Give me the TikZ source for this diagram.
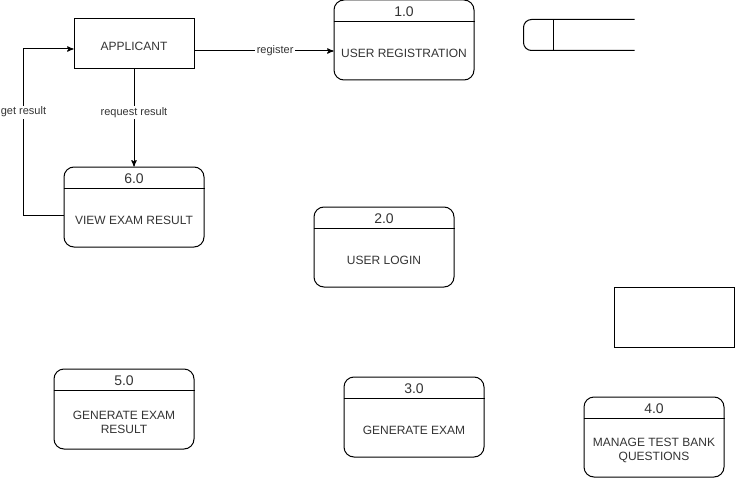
\documentclass[tikz,border=0pt]{standalone}
\usepackage{fontspec}
\setmainfont{Liberation Sans}
\usepackage{pgf,tikz}
\usetikzlibrary{arrows,shapes}
\tikzstyle{entity}=[rectangle,draw,minimum width=90pt,minimum height=37.5pt,inner sep=0pt]
\tikzstyle{process}=[rectangle,draw,rounded corners=7.5pt,minimum width=105pt,minimum height=60pt,inner sep=0pt]
\tikzstyle{caption}=[font=\fontsize{9}{11}\selectfont,text=black!80,align=center,inner sep=1pt]
\tikzstyle{number}=[caption,font=\fontsize{10.5}{12}\selectfont]
\tikzstyle{flow}=[draw,-stealth']
\tikzstyle{flowlabel}=[font=\fontsize{8.25}{10}\selectfont,text=black!80,fill=white,inner sep=1pt]

\begin{document}
\begin{tikzpicture}[x=0.75pt,y=-0.75pt,line width=0.75pt]
    \useasboundingbox (0,0) rectangle (735,478);
    % external entity and the empty boxes
    \node[entity] (applicant) at (134,44) {};
    \node[caption] (applicanttxt) at ([yshift=-1.5pt]applicant.center) {APPLICANT};
    \node[entity,minimum height=45pt] (blank) at (674,317) {};
    \node[inner sep=0pt,minimum width=82.5pt,minimum height=22.5pt] (store) at (579,35) {};
    \draw[rounded corners=6pt] (store.north east) -- (store.north west) -- (store.south west) -- (store.south east);
    \draw ([xshift=22.5pt]store.north west) -- ([xshift=22.5pt]store.south west);
    % processes
    \foreach \pos/\name/\num/\desc in {{(404,40)/p1/1.0/USER REGISTRATION}, {(384,247)/p2/2.0/USER LOGIN}, {(414,417)/p3/3.0/GENERATE EXAM}, {(654,437)/p4/4.0/{MANAGE TEST BANK\\QUESTIONS}}, {(124,409)/p5/5.0/{GENERATE EXAM\\RESULT}}, {(134,207)/p6/6.0/VIEW EXAM RESULT}}
    {
        \node[process] (\name) at \pos {};
        \draw ([yshift=-16.5pt]\name.north west) -- ([yshift=-16.5pt]\name.north east);
        \node[number] (\name num) at ([yshift=-9.5pt]\name.north) {\num};
        \node[caption] (\name txt) at ([yshift=-10pt]\name.center) {\desc};
    }
    % data flows
    \path[flow] ([yshift=-5.25pt]applicant.east) -- node[flowlabel,pos=0.58] (regtxt) {register} ([yshift=-8.25pt]p1.west);
    \path[flow] (applicant.south) -- node[flowlabel,pos=0.44] (reqtxt) {request result} (p6.north);
    \path[flow] ([yshift=-6pt]p6.west) -- ++(-40,0) |- node[flowlabel,pos=0.31] (gettxt) {get result} ([yshift=-3.75pt]applicant.west);
\end{tikzpicture}
\end{document}
